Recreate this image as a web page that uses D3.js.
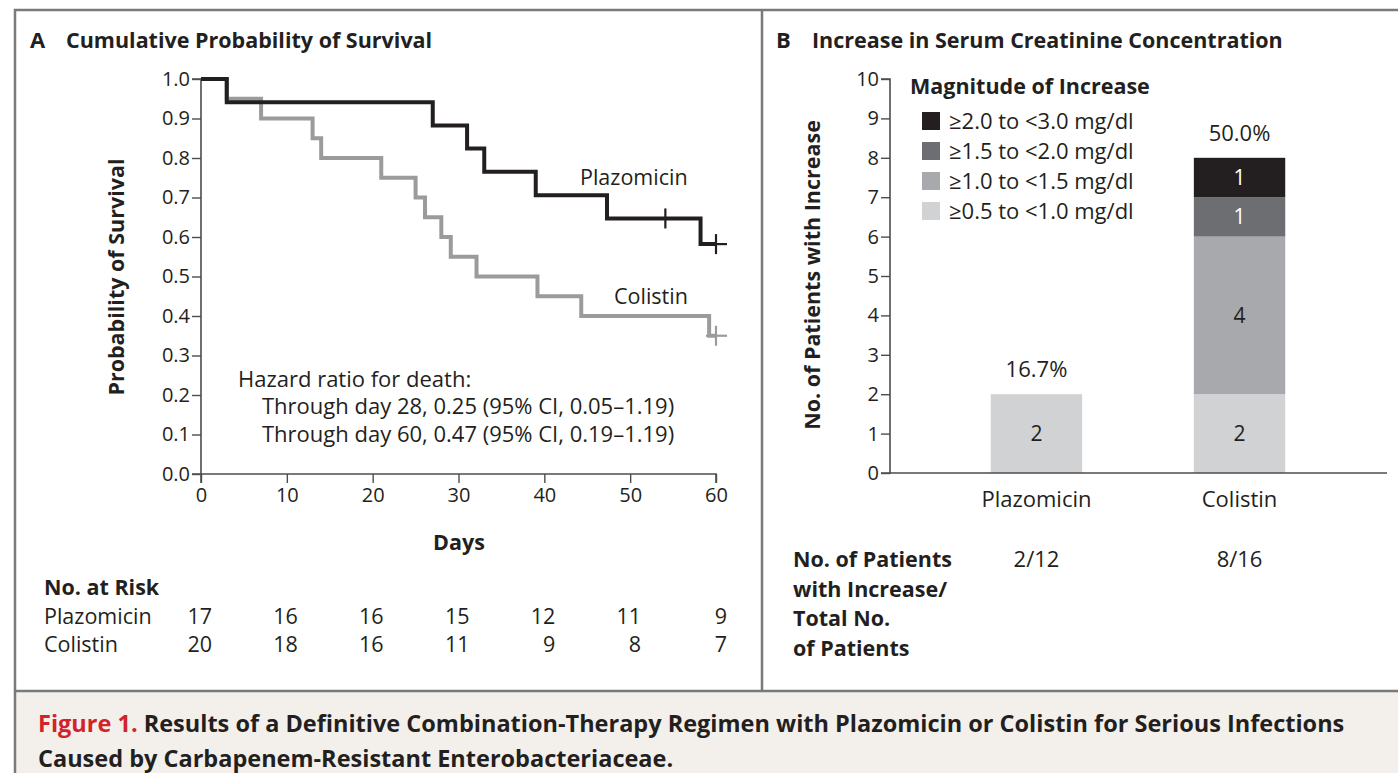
<!DOCTYPE html>
<html>
<head>
<meta charset="utf-8">
<script src="https://cdn.jsdelivr.net/npm/d3@7"></script>
<style>
  body { margin: 0; background: #fff; }
  svg text { font-family: 'Open Sans', Lato, sans-serif; fill: #231f20; }
</style>
</head>
<body>
<svg width="1398" height="773"></svg>
<script>
// panel A: Kaplan-Meier steps [day, survival]
const plazoSteps = [[0, 1.0], [3, 0.941], [27, 0.882], [31, 0.824], [33, 0.765], [39, 0.706], [47.3, 0.647], [58.2, 0.582], [60, 0.582]];
const plazoCensor = [54.1, 60];
const colistinSteps = [[0, 1.0], [3, 0.95], [7, 0.90], [13, 0.85], [14, 0.80], [21, 0.75], [25, 0.70], [26.1, 0.65], [28, 0.60], [29.1, 0.55], [32.1, 0.50], [39.2, 0.45], [44.3, 0.40], [59.2, 0.35], [60, 0.35]];
const colistinCensor = [60];
const riskDays = [0, 10, 20, 30, 40, 50, 60];
const riskPlazo = [17, 16, 16, 15, 12, 11, 9];
const riskColistin = [20, 18, 16, 11, 9, 8, 7];
const survTicks = [0, 0.1, 0.2, 0.3, 0.4, 0.5, 0.6, 0.7, 0.8, 0.9, 1.0];

// panel B: stacked counts by magnitude
const groups = ['Plazomicin', 'Colistin'];
const magnitudes = ['≥0.5 to <1.0 mg/dl', '≥1.0 to <1.5 mg/dl', '≥1.5 to <2.0 mg/dl', '≥2.0 to <3.0 mg/dl'];
const magColors = ['#d1d2d4', '#a7a9ac', '#6d6e71', '#231f20'];
const counts = [[2, 0, 0, 0], [2, 4, 1, 1]];
const percents = ['16.7%', '50.0%'];
const ratios = ['2/12', '8/16'];

let svg = d3.select('svg');
const ink = '#231f20';
const frame = '#7a7a7a';
const axisInk = '#4d4d4f';

// frame and caption
svg.append('rect').attr('x', 15).attr('y', 691).attr('width', 1400).attr('height', 100).attr('fill', '#f3f0ec');
svg.append('rect').attr('x', 15).attr('y', 10).attr('width', 1400).attr('height', 800)
  .attr('fill', 'none').attr('stroke', frame).attr('stroke-width', 2.5);
svg.append('line').attr('x1', 15).attr('x2', 1398).attr('y1', 691).attr('y2', 691).attr('stroke', frame).attr('stroke-width', 2.5);
svg.append('line').attr('x1', 762).attr('x2', 762).attr('y1', 10).attr('y2', 691).attr('stroke', frame).attr('stroke-width', 2.5);

let cap = svg.append('text').attr('x', 38).attr('y', 732).style('font-size', '23.5px').style('font-weight', 700);
cap.append('tspan').text('Figure 1. ').style('fill', '#d2232a');
cap.append('tspan').text('Results of a Definitive Combination-Therapy Regimen with Plazomicin or Colistin for Serious Infections');
svg.append('text').attr('x', 38).attr('y', 767).style('font-size', '23.5px').style('font-weight', 700)
  .text('Caused by Carbapenem-Resistant Enterobacteriaceae.');

// ---- Panel A ----
svg.append('text').attr('x', 30).attr('y', 48).style('font-size', '22px').style('font-weight', 700).text('A');
svg.append('text').attr('x', 66).attr('y', 48).style('font-size', '21.5px').style('font-weight', 700).text('Cumulative Probability of Survival');

let x = d3.scaleLinear().domain([0, 60]).range([201, 716]);
let y = d3.scaleLinear().domain([0, 1]).range([474, 79]);

function styleAxis(a) {
  a.select('.domain').attr('stroke', axisInk).attr('stroke-width', 1.6);
  a.selectAll('.tick line').attr('stroke', axisInk).attr('stroke-width', 1.4);
  a.selectAll('.tick text').style('font-size', '20px').style('font-family', "'Open Sans', sans-serif").attr('fill', ink);
}

let gA = svg.append('g');
let yAxis = gA.append('g').attr('transform', 'translate(201,0)')
  .call(d3.axisLeft(y).tickValues(survTicks).tickFormat(d3.format('.1f')).tickSize(9).tickPadding(2));
let xAxis = gA.append('g').attr('transform', 'translate(0,474)')
  .call(d3.axisBottom(x).tickValues(riskDays).tickSize(9).tickPadding(5));
styleAxis(yAxis);
styleAxis(xAxis);
yAxis.select('.domain').attr('d', 'M-9,474H0V79H-9');
xAxis.select('.domain').attr('d', 'M201,9V0H716V9');

let step = d3.line().x(function(d) { return x(d[0]); }).y(function(d) { return y(d[1]); }).curve(d3.curveStepAfter);
gA.append('path').datum(colistinSteps).attr('d', step).attr('fill', 'none').attr('stroke', '#9a9b9d').attr('stroke-width', 4);
gA.append('path').datum(plazoSteps).attr('d', step).attr('fill', 'none').attr('stroke', ink).attr('stroke-width', 4);

function survAt(steps, t) {
  let v = steps[0][1];
  steps.forEach(function(s) { if (s[0] <= t) v = s[1]; });
  return v;
}
function censorMarks(times, steps, color) {
  times.forEach(function(t) {
    let cx = x(t), cy = y(survAt(steps, t));
    gA.append('line').attr('x1', cx).attr('x2', cx).attr('y1', cy - 10).attr('y2', cy + 10).attr('stroke', color).attr('stroke-width', 2.2);
    if (t === 60) {
      gA.append('line').attr('x1', cx - 10).attr('x2', cx + 11).attr('y1', cy).attr('y2', cy).attr('stroke', color).attr('stroke-width', 2.2);
    }
  });
}
censorMarks(colistinCensor, colistinSteps, '#9a9b9d');
censorMarks(plazoCensor, plazoSteps, ink);

gA.append('text').attr('x', 580).attr('y', 185).style('font-size', '21.5px').text('Plazomicin');
gA.append('text').attr('x', 614).attr('y', 304).style('font-size', '21.5px').text('Colistin');

gA.append('text').attr('x', 238).attr('y', 387).style('font-size', '22px').text('Hazard ratio for death:');
gA.append('text').attr('x', 262).attr('y', 414).style('font-size', '22px').text('Through day 28, 0.25 (95% CI, 0.05–1.19)');
gA.append('text').attr('x', 262).attr('y', 442).style('font-size', '22px').text('Through day 60, 0.47 (95% CI, 0.19–1.19)');

gA.append('text').attr('transform', 'translate(124,277) rotate(-90)').attr('text-anchor', 'middle')
  .style('font-size', '21.5px').style('font-weight', 700).text('Probability of Survival');
gA.append('text').attr('x', 459).attr('y', 550).attr('text-anchor', 'middle')
  .style('font-size', '21.5px').style('font-weight', 700).text('Days');

gA.append('text').attr('x', 44).attr('y', 595).style('font-size', '21.5px').style('font-weight', 700).text('No. at Risk');
[['Plazomicin', riskPlazo, 624], ['Colistin', riskColistin, 652]].forEach(function(r) {
  gA.append('text').attr('x', 44).attr('y', r[2]).style('font-size', '21.5px').text(r[0]);
  gA.selectAll(null).data(r[1]).enter().append('text')
    .attr('x', function(d, i) { return x(riskDays[i]) + 11; })
    .attr('y', r[2]).attr('text-anchor', 'end').style('font-size', '21.5px')
    .text(function(d) { return d; });
});

// ---- Panel B ----
svg.append('text').attr('x', 776).attr('y', 48).style('font-size', '22px').style('font-weight', 700).text('B');
svg.append('text').attr('x', 812).attr('y', 48).style('font-size', '21.5px').style('font-weight', 700).text('Increase in Serum Creatinine Concentration');

let xb = d3.scaleBand().domain(groups).range([940, 1336]).paddingInner(0.55).paddingOuter(0.25);
let yb = d3.scaleLinear().domain([0, 10]).range([473, 79]);
let gB = svg.append('g');

let series = d3.stack().keys(d3.range(magnitudes.length))(counts);
series.forEach(function(s, k) {
  let segs = s.map(function(d, i) { return { g: groups[i], y0: d[0], y1: d[1] }; })
    .filter(function(d) { return d.y1 > d.y0; });
  gB.append('g').selectAll('rect').data(segs).enter().append('rect')
    .attr('x', function(d) { return xb(d.g); })
    .attr('width', xb.bandwidth())
    .attr('y', function(d) { return yb(d.y1); })
    .attr('height', function(d) { return yb(d.y0) - yb(d.y1); })
    .attr('fill', magColors[k]);
  gB.append('g').selectAll('text').data(segs).enter().append('text')
    .attr('x', function(d) { return xb(d.g) + xb.bandwidth() / 2; })
    .attr('y', function(d) { return (yb(d.y0) + yb(d.y1)) / 2; })
    .attr('dy', '0.35em').attr('text-anchor', 'middle').style('font-size', '21px')
    .style('fill', k >= 2 ? '#fff' : ink)
    .text(function(d) { return d.y1 - d.y0; });
});

let yAxisB = gB.append('g').attr('transform', 'translate(890,0)')
  .call(d3.axisLeft(yb).ticks(10).tickSize(9).tickPadding(2));
styleAxis(yAxisB);
yAxisB.select('.domain').attr('d', 'M-9,473H0V79H-9');
gB.append('line').attr('x1', 890).attr('x2', 1387).attr('y1', 473).attr('y2', 473).attr('stroke', axisInk).attr('stroke-width', 1.6);

gB.selectAll('.pct').data(groups).enter().append('text')
  .attr('x', function(d) { return xb(d) + xb.bandwidth() / 2; })
  .attr('y', function(d, i) { return yb(d3.sum(counts[i])) - 17; })
  .attr('text-anchor', 'middle').style('font-size', '22px')
  .text(function(d, i) { return percents[i]; });
gB.selectAll('.cat').data(groups).enter().append('text')
  .attr('x', function(d) { return xb(d) + xb.bandwidth() / 2; })
  .attr('y', 507).attr('text-anchor', 'middle').style('font-size', '22px')
  .text(function(d) { return d; });
gB.selectAll('.ratio').data(groups).enter().append('text')
  .attr('x', function(d) { return xb(d) + xb.bandwidth() / 2; })
  .attr('y', 567).attr('text-anchor', 'middle').style('font-size', '22px')
  .text(function(d, i) { return ratios[i]; });

gB.append('text').attr('transform', 'translate(820,275) rotate(-90)').attr('text-anchor', 'middle')
  .style('font-size', '21.5px').style('font-weight', 700).text('No. of Patients with Increase');

['No. of Patients', 'with Increase/', 'Total No.', 'of Patients'].forEach(function(t, i) {
  gB.append('text').attr('x', 793).attr('y', 567 + i * 29.5).style('font-size', '21.5px').style('font-weight', 700).text(t);
});

// legend
gB.append('text').attr('x', 910).attr('y', 94).style('font-size', '21.5px').style('font-weight', 700).text('Magnitude of Increase');
let legendOrder = d3.range(magnitudes.length).reverse();
let leg = gB.selectAll('.leg').data(legendOrder).enter().append('g')
  .attr('transform', function(d, i) { return 'translate(922,' + (121 + i * 30) + ')'; });
leg.append('rect').attr('x', 0).attr('y', -9).attr('width', 18).attr('height', 18)
  .attr('fill', function(d) { return magColors[d]; });
leg.append('text').attr('x', 27).attr('dy', '0.35em').style('font-size', '22px')
  .text(function(d) { return magnitudes[d]; });
</script>
</body>
</html>
